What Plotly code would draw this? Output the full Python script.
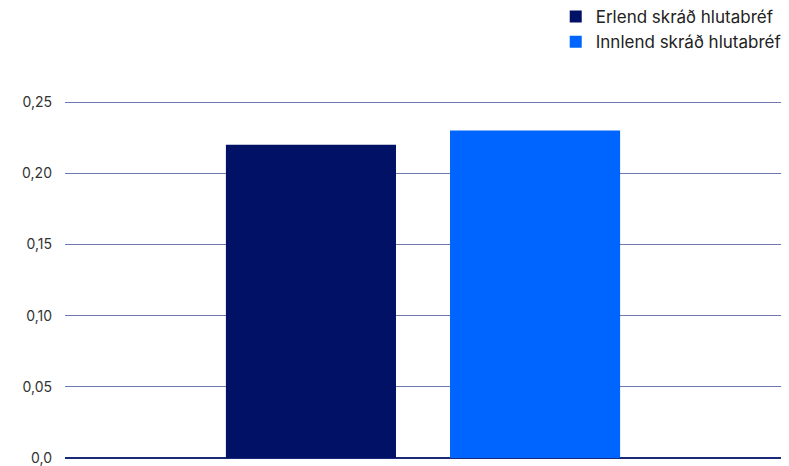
import plotly.graph_objects as go

categories = [""]
series_names = ["Erlend skráð hlutabréf", "Innlend skráð hlutabréf"]
erlend = [0.22]
innlend = [0.23]
tick_vals = [0, 0.05, 0.10, 0.15, 0.20, 0.25]
tick_text = ["0,0", "0,05", "0,10", "0,15", "0,20", "0,25"]

colors = ["#001166", "#0064FF"]

fig = go.Figure()
for name, vals, c in zip(series_names, [erlend, innlend], colors):
    fig.add_trace(go.Bar(x=categories, y=vals, name=name, marker=dict(color=c, line=dict(width=0))))

fig.update_layout(
    width=781, height=458,
    margin=dict(l=57, r=8, t=92, b=8, autoexpand=False),
    paper_bgcolor="white", plot_bgcolor="white",
    font=dict(family="Inter, Roboto, sans-serif", size=14, color="#333333"),
    barmode="group", bargap=0.374, bargroupgap=0.241,
    legend=dict(x=1.008, xanchor="right", y=1.282, yanchor="top",
                font=dict(size=17, color="#222222"), bgcolor="rgba(0,0,0,0)",
                tracegroupgap=0, itemwidth=30),
    showlegend=True,
)
fig.update_xaxes(showticklabels=False, showgrid=False, zeroline=False, showline=False, range=[-0.5, 0.5])
fig.update_yaxes(range=[0, 0.2515], tickvals=tick_vals, ticktext=tick_text, showgrid=True,
                 gridcolor="#6f7bb0", gridwidth=1, zeroline=True, zerolinecolor="#1a2a7a", zerolinewidth=2,
                 ticks="", ticklabelstandoff=12, showline=False)

fig.write_html("out.html")
